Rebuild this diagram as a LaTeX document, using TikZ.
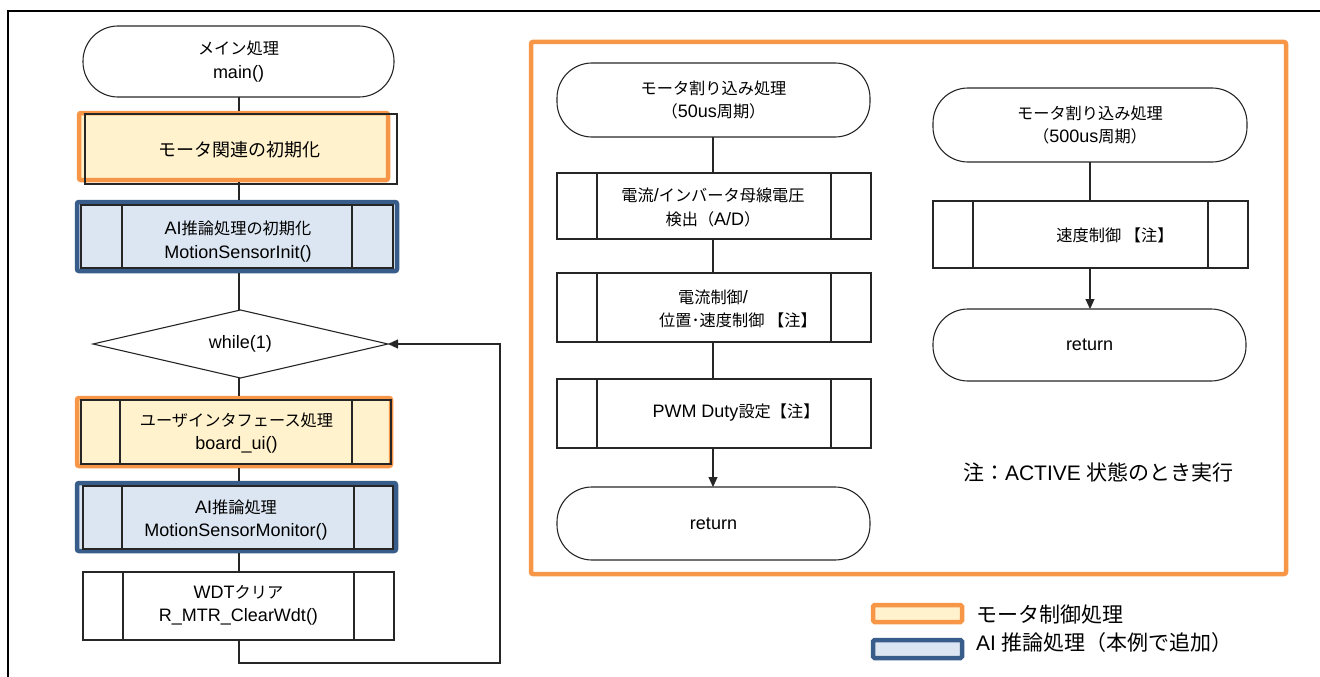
\documentclass[tikz,border=0pt]{standalone}
\usepackage{fontspec}
\setmainfont{Liberation Sans}
\newfontfamily\cjk[Scale=0.9]{Noto Sans CJK JP}
\newfontfamily\cjkL{Noto Sans CJK JP}
\newcommand\J[1]{{\cjk #1}}
\newcommand\JL[1]{{\cjkL #1}}
\usetikzlibrary{shapes.geometric,arrows.meta}
\definecolor{orn}{HTML}{F79646}
\definecolor{ylw}{HTML}{FFF2CC}
\definecolor{blu}{HTML}{385D8A}
\definecolor{lbl}{HTML}{DCE6F2}
\newcommand\sublines[2]{%
  \draw[boxline] ([xshift=#2]#1.north west) -- ([xshift=#2]#1.south west);
  \draw[boxline] ([xshift=-#2]#1.north east) -- ([xshift=-#2]#1.south east);}
\begin{document}
\begin{tikzpicture}[x=1pt,y=-1pt,
  every node/.style={font=\fontsize{18}{23.5}\selectfont, inner sep=0pt, outer sep=0pt, align=center},
  boxline/.style={line width=1.1pt, draw=black!85},
  term/.style={draw=black!85, line width=1.1pt, rounded corners=35pt},
  pbox/.style={draw=black!85, line width=1.1pt},
  hlo/.style={draw=orn, fill=ylw, line width=4.5pt, rounded corners=2pt, outer sep=2.25pt},
  hlb/.style={draw=blu, fill=lbl, line width=4.5pt, rounded corners=2pt, outer sep=2.25pt},
  conn/.style={line width=1.1pt, draw=black!85},
  tip/.style={-{Triangle[length=10pt,width=9pt]}},
  big/.style={font=\fontsize{21}{25}\selectfont, anchor=west}
]
\useasboundingbox (0,0) rectangle (1320,677);
\draw[line width=2pt] (8,677) -- (8,11) -- (1320,11);
\coordinate (cx) at (239,0);
\coordinate (mx) at (713,0);
\coordinate (rx) at (1090,0);

% ---------------- left column ----------------
\node[term, minimum width=311pt, minimum height=71pt] (m0) at (238.5,61.5) {\J{メイン処理}\\main()};

\node[hlo, minimum width=309pt, minimum height=67pt] (h1) at (233.5,146.5) {};
\node[pbox, minimum width=312pt, minimum height=70pt] (m1) at (241,149) {};
\node (m1t) at (239,150) {\JL{モータ関連の初期化}};

\node[hlb, minimum width=320pt, minimum height=69pt] (h2) at (237,236.5) {};
\node[pbox, minimum width=312pt, minimum height=63pt] (m2) at (237,236.5) {};
\sublines{m2}{41pt}
\node (m2t) at (238,241.5) {AI\J{推論処理の初期化}\\MotionSensorInit()};

\node[draw=black!85, line width=1.1pt, diamond, aspect=4.3, minimum width=295pt, minimum height=68pt] (d) at (240.5,344) {while(1)};

\node[hlo, minimum width=314pt, minimum height=68pt] (h3) at (234,432) {};
\node[pbox, minimum width=310pt, minimum height=64pt] (m3) at (236,432) {};
\sublines{m3}{39pt}
\node (m3t) at (236.5,433) {\J{ユーザインタフェース処理}\\board\_ui()};

\node[hlb, minimum width=319pt, minimum height=68pt] (h4) at (236.5,517) {};
\node[pbox, minimum width=310pt, minimum height=63pt] (m4) at (238,517.5) {};
\sublines{m4}{39pt}
\node (m4t) at (236,520) {AI\J{推論処理}\\MotionSensorMonitor()};

\node[pbox, minimum width=311pt, minimum height=68pt] (m5) at (238.5,606) {};
\sublines{m5}{40pt}
\node (m5t) at (238.5,605.5) {WDT\J{クリア}\\R\_MTR\_ClearWdt()};

\coordinate (lb) at (500,663);
\draw[conn] (m0.south -| cx) -- (h1.north -| cx);
\draw[conn] (h1.south -| cx) -- (h2.north -| cx);
\draw[conn] (h2.south -| cx) -- (d.north -| cx);
\draw[conn] (d.south -| cx) -- (h3.north -| cx);
\draw[conn] (h3.south -| cx) -- (h4.north -| cx);
\draw[conn] (h4.south -| cx) -- (m5.north -| cx);
\draw[conn, tip] (m5.south -| cx) |- (lb) |- (d.east);

% ---------------- big frame ----------------
\node[draw=orn, line width=4.5pt, rounded corners=2pt, minimum width=755pt, minimum height=532pt] (bigf) at (908.5,308) {};

% ---------------- middle column ----------------
\node[term, minimum width=313pt, minimum height=74pt] (t1) at (713.5,100) {\J{モータ割り込み処理}\\\J{（}50us\J{周期）}};
\node[pbox, minimum width=314pt, minimum height=66pt] (b1) at (714,206) {};
\sublines{b1}{40pt}
\node (b1t) at (713,207.5) {\J{電流}/\J{インバータ母線電圧}\\\J{検出（}A/D\J{）}};
\node[pbox, minimum width=314pt, minimum height=69pt] (b2) at (714,307.5) {};
\sublines{b2}{40pt}
\node (b2a) at (713,297) {\J{電流制御}/};
\node (b2b) at (738,320) {\J{位置･速度制御 【注】}};
\node[pbox, minimum width=314pt, minimum height=69pt] (b3) at (714,413.5) {};
\sublines{b3}{40pt}
\node (b3t) at (736,413) {PWM Duty\J{設定【注】}};
\node[term, minimum width=313pt, minimum height=73pt] (t2) at (713.5,523.5) {return};

\draw[conn] (t1.south -| mx) -- (b1.north -| mx);
\draw[conn] (b1.south -| mx) -- (b2.north -| mx);
\draw[conn] (b2.south -| mx) -- (b3.north -| mx);
\draw[conn, tip] (b3.south -| mx) -- (t2.north -| mx);

% ---------------- right column ----------------
\node[term, minimum width=314pt, minimum height=74pt] (t3) at (1090,125) {\J{モータ割り込み処理}\\\J{（}500us\J{周期）}};
\node[pbox, minimum width=315pt, minimum height=67pt] (b4) at (1090.5,234.5) {};
\sublines{b4}{40pt}
\node (b4t) at (1115,235) {\J{速度制御 【注】}};
\node[term, minimum width=313pt, minimum height=72pt] (t4) at (1089.5,345) {return};

\draw[conn] (t3.south -| rx) -- (b4.north -| rx);
\draw[conn, tip] (b4.south -| rx) -- (t4.north -| rx);

% ---------------- note & legend ----------------
\node[big] (note) at (963,472) {\JL{注：}ACTIVE \JL{状態のとき実行}};

\node[hlo, minimum width=89pt, minimum height=17pt, rounded corners=1.5pt] (lg1) at (917.5,613.5) {};
\node[big] (lg1t) at (976,615) {\JL{モータ制御処理}};
\node[hlb, minimum width=89pt, minimum height=18pt, rounded corners=1.5pt] (lg2) at (917.5,649) {};
\node[big] (lg2t) at (976,643) {AI \JL{推論処理（本例で追加）}};
\end{tikzpicture}
\end{document}
